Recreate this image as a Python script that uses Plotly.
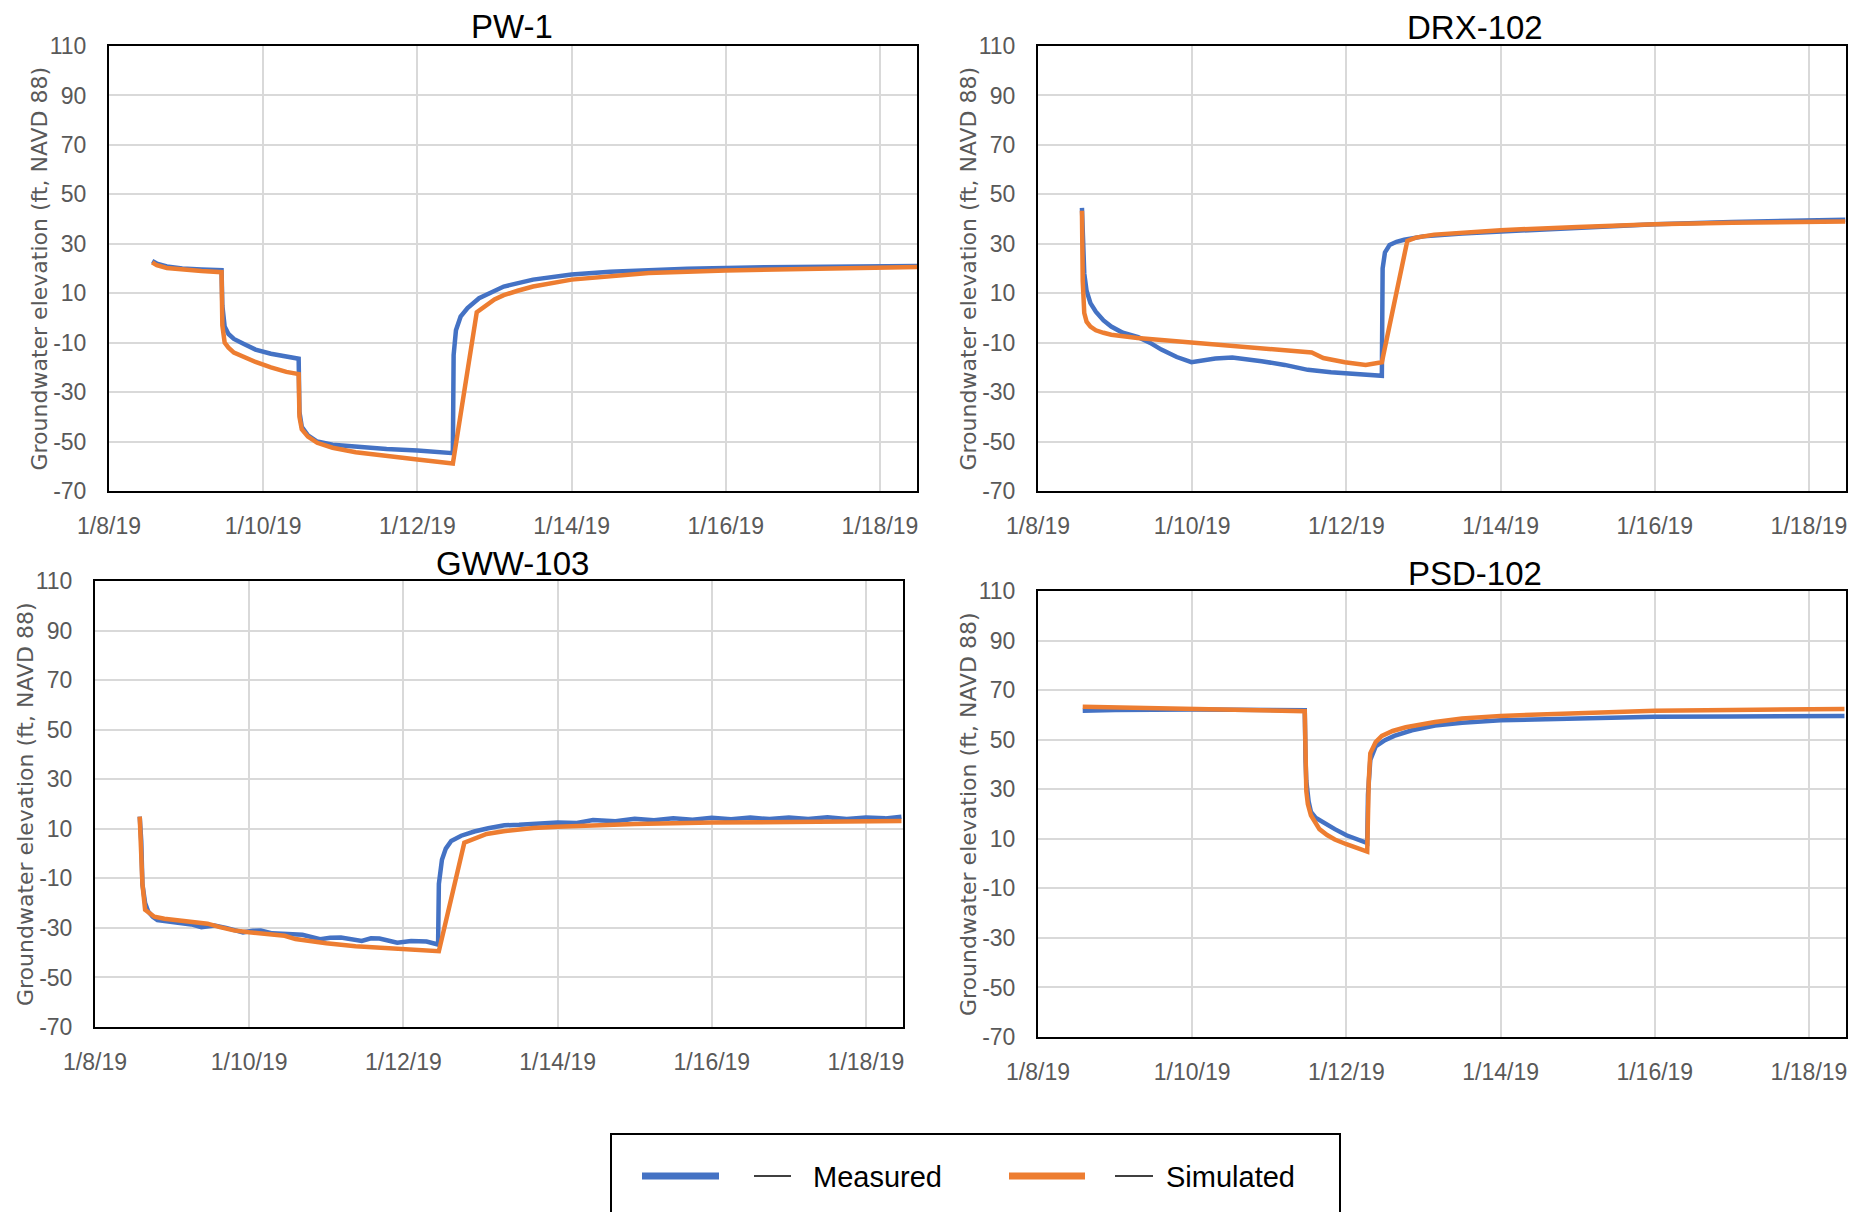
import pandas as pd
import plotly.graph_objects as go

START = pd.Timestamp("2019-01-08")

# ---------------- data (days after 1/8/19 00:00, elevation ft NAVD 88) ----------------
x_tick_days = [0, 2, 4, 6, 8, 10]
x_tick_labels = ["1/8/19", "1/10/19", "1/12/19", "1/14/19", "1/16/19", "1/18/19"]
x_range_days = [0, 10.48]
y_tick_values = [-70, -50, -30, -10, 10, 30, 50, 70, 90, 110]
y_tick_labels = ["-70", "-50", "-30", "-10", "10", "30", "50", "70", "90", "110"]
y_range = [-70, 110]

well_names = ["PW-1", "DRX-102", "GWW-103", "PSD-102"]
series_names = ["Measured", "Simulated"]

pw1_meas_days = [0.56, 0.62, 0.75, 0.95, 1.2, 1.46, 1.47, 1.5, 1.55, 1.62, 1.75, 1.9, 2.1, 2.3, 2.46,
                 2.47, 2.5, 2.58, 2.7, 2.9, 3.2, 3.6, 4.0, 4.46, 4.47, 4.5, 4.56, 4.65, 4.8, 5.0, 5.12,
                 5.5, 6.0, 6.5, 7.0, 7.5, 8.5, 9.5, 10.48]
pw1_meas_ft = [23.0, 22.0, 20.8, 20.0, 19.6, 19.3, 5.0, -3.5, -6.5, -8.5, -10.5, -12.8, -14.5, -15.7, -16.5,
               -38.0, -44.0, -47.5, -50.0, -51.3, -52.2, -53.0, -53.6, -54.7, -15.0, -5.0, 0.5, 4.0, 8.0, 11.0, 12.7,
               15.5, 17.6, 18.7, 19.5, 19.9, 20.5, 20.8, 21.0]
pw1_sim_days = [0.56, 0.62, 0.75, 0.95, 1.2, 1.46, 1.47, 1.5, 1.55, 1.62, 1.75, 1.9, 2.1, 2.3, 2.46,
                2.47, 2.5, 2.58, 2.7, 2.9, 3.2, 3.6, 4.0, 4.46, 4.77, 5.0, 5.12, 5.3, 5.5, 6.0, 6.5,
                7.0, 8.0, 9.0, 10.48]
pw1_sim_ft = [22.5, 21.3, 20.2, 19.5, 19.0, 18.5, -3.0, -10.0, -12.0, -14.0, -16.0, -17.8, -20.0, -21.8, -22.7,
              -40.0, -45.0, -48.0, -50.5, -52.5, -54.3, -56.0, -57.3, -58.9, 2.3, 7.5, 9.2, 11.0, 12.7, 15.5, 17.0,
              18.2, 19.2, 19.8, 20.6]

drx_meas_days = [0.57, 0.58, 0.6, 0.63, 0.68, 0.75, 0.85, 0.95, 1.1, 1.3, 1.45, 1.6, 1.8, 1.99, 2.1, 2.3,
                 2.52, 2.7, 2.9, 3.2, 3.5, 3.8, 4.1, 4.46, 4.47, 4.5, 4.56, 4.65, 4.75, 5.0, 5.5, 6.0,
                 7.0, 8.0, 9.0, 10.47]
drx_meas_ft = [44.5, 30.0, 18.0, 11.0, 6.0, 2.5, -1.0, -3.5, -6.0, -7.8, -10.0, -12.8, -15.8, -17.9, -17.3, -16.4,
               -16.0, -16.5, -17.5, -19.0, -21.0, -22.0, -22.8, -23.4, 20.0, 26.5, 29.5, 30.8, 31.6, 33.0, 34.2, 35.0,
               36.5, 37.9, 38.8, 39.7]
drx_sim_days = [0.57, 0.58, 0.6, 0.63, 0.68, 0.75, 0.85, 0.95, 1.29, 1.99, 2.75, 3.45, 3.55, 3.7, 3.98, 4.25,
                4.46, 4.79, 4.9, 5.14, 6.0, 7.0, 8.0, 9.0, 10.47]
drx_sim_ft = [43.4, 15.0, 2.0, -1.5, -3.5, -5.0, -6.0, -6.8, -8.1, -9.9, -11.6, -13.7, -14.0, -16.2, -17.9, -19.0,
              -17.9, 31.2, 32.5, 33.7, 35.5, 36.8, 37.9, 38.5, 39.0]

gww_meas_days = [0.58, 0.6, 0.615, 0.65, 0.69, 0.75, 0.81, 0.95, 1.08, 1.25, 1.38, 1.55, 1.7, 1.92, 2.05,
                 2.15, 2.3, 2.46, 2.69, 2.92, 3.05, 3.19, 3.46, 3.58, 3.69, 3.92, 4.1, 4.3, 4.45, 4.46,
                 4.5, 4.55, 4.62, 4.75, 4.92, 5.1, 5.31, 5.5, 5.69, 6.0, 6.25, 6.46, 6.75, 7.0, 7.25,
                 7.5, 7.75, 8.0, 8.25, 8.5, 8.75, 9.0, 9.25, 9.5, 9.75, 10.0, 10.25, 10.46]
gww_meas_ft = [14.9, 5.0, -12.3, -20.0, -23.4, -25.5, -26.9, -27.5, -28.3, -28.6, -29.7, -29.0, -30.0, -31.8, -31.2,
               -31.1, -32.2, -32.5, -32.8, -34.6, -34.0, -33.9, -35.3, -34.2, -34.3, -36.0, -35.3, -35.5, -36.7, -12.3,
               -2.5, 2.0, 5.1, 7.2, 8.9, 10.2, 11.4, 11.6, 12.1, 12.5, 12.3, 13.5, 13.0, 14.0, 13.4,
               14.2, 13.6, 14.4, 13.8, 14.5, 13.9, 14.5, 13.9, 14.6, 14.0, 14.6, 14.2, 14.9]
gww_sim_days = [0.58, 0.6, 0.615, 0.65, 0.77, 0.9, 1.08, 1.3, 1.46, 1.62, 1.8, 2.0, 2.2, 2.46, 2.6, 2.77,
                3.0, 3.38, 3.7, 4.0, 4.46, 4.79, 5.08, 5.3, 5.69, 6.0, 6.46, 7.0, 8.0, 9.0, 10.46]
gww_sim_ft = [14.9, 2.0, -12.3, -22.7, -25.5, -26.3, -26.9, -27.6, -28.3, -29.7, -31.0, -31.8, -32.5, -33.2, -34.5,
              -35.3, -36.2, -37.4, -38.0, -38.5, -39.4, 4.4, 7.9, 9.0, 10.3, 10.8, 11.4, 11.9, 12.5, 12.8, 13.1]

psd_meas_days = [0.58, 1.0, 2.0, 3.0, 3.46, 3.47, 3.48, 3.51, 3.54, 3.6, 3.69, 3.85, 4.0, 4.15, 4.27, 4.28,
                 4.31, 4.38, 4.5, 4.62, 4.85, 5.15, 5.5, 6.0, 7.0, 8.0, 9.0, 10.46]
psd_meas_ft = [61.7, 62.0, 62.2, 62.0, 61.9, 42.0, 33.4, 25.0, 20.9, 18.5, 16.7, 13.9, 11.4, 9.8, 8.3, 27.8,
               41.8, 47.3, 49.8, 51.5, 53.8, 55.7, 56.8, 57.8, 58.6, 59.2, 59.4, 59.6]
psd_sim_days = [0.58, 1.0, 2.0, 3.0, 3.46, 3.48, 3.5, 3.54, 3.6, 3.65, 3.75, 3.85, 4.0, 4.08, 4.27, 4.29,
                4.31, 4.38, 4.46, 4.6, 4.77, 5.15, 5.5, 6.0, 7.0, 8.0, 9.0, 10.46]
psd_sim_ft = [63.3, 63.0, 62.6, 62.0, 61.5, 29.2, 24.0, 19.5, 16.0, 13.9, 11.5, 9.7, 7.8, 6.9, 4.8, 33.4,
              44.5, 49.0, 51.5, 53.5, 55.0, 57.1, 58.5, 59.6, 60.8, 61.7, 62.0, 62.4]

# ---------------- styling / layout ----------------
W, H = 1860, 1212
PAGE_OFFSET = 8  # default body margin of the html page
BLUE = "#4472C4"
ORANGE = "#ED7D31"
TICK_COLOR = "#595959"
GRID_COLOR = "#D9D9D9"
FONT = "Liberation Sans, Arial, sans-serif"


def dt(days):
    return START + pd.to_timedelta(days, unit="D")


def px_x(px):
    return (px - PAGE_OFFSET) / W


def px_y(py):
    return 1 - (py - PAGE_OFFSET) / H


# panel boxes in pixels: (left, right, top, bottom), title centre
panels = [
    dict(meas=(pw1_meas_days, pw1_meas_ft), sim=(pw1_sim_days, pw1_sim_ft),
         box=(109, 917, 46, 491), title_xy=(512, 26)),
    dict(meas=(drx_meas_days, drx_meas_ft), sim=(drx_sim_days, drx_sim_ft),
         box=(1038, 1846, 46, 491), title_xy=(1475, 28)),
    dict(meas=(gww_meas_days, gww_meas_ft), sim=(gww_sim_days, gww_sim_ft),
         box=(95, 903, 581, 1027), title_xy=(512, 563)),
    dict(meas=(psd_meas_days, psd_meas_ft), sim=(psd_sim_days, psd_sim_ft),
         box=(1038, 1846, 591, 1037), title_xy=(1475, 573)),
]

fig = go.Figure()
annotations = []
layout_axes = {}

for i, (name, p) in enumerate(zip(well_names, panels), start=1):
    xa = "x" if i == 1 else f"x{i}"
    ya = "y" if i == 1 else f"y{i}"
    for (days, vals), sname, color in [(p["meas"], series_names[0], BLUE),
                                       (p["sim"], series_names[1], ORANGE)]:
        fig.add_trace(go.Scatter(
            x=dt(days), y=vals, mode="lines", name=sname,
            line=dict(color=color, width=4.5),
            xaxis=xa, yaxis=ya, showlegend=False,
        ))
    l, r, t, b = p["box"]
    xkey = "xaxis" if i == 1 else f"xaxis{i}"
    ykey = "yaxis" if i == 1 else f"yaxis{i}"
    layout_axes[xkey] = dict(
        type="date", domain=[px_x(l), px_x(r)], anchor=ya, automargin=False,
        range=[dt(x_range_days[0]), dt(x_range_days[1])],
        tickmode="array", tickvals=dt(x_tick_days), ticktext=x_tick_labels,
        showgrid=True, gridcolor=GRID_COLOR, gridwidth=1.5,
        showline=True, linecolor="black", linewidth=2, mirror=True,
        ticks="", ticklabelstandoff=13, zeroline=False,
        tickfont=dict(family=FONT, size=23, color=TICK_COLOR),
    )
    layout_axes[ykey] = dict(
        domain=[px_y(b), px_y(t)], anchor=xa, range=y_range, automargin=False,
        tickmode="array", tickvals=y_tick_values, ticktext=y_tick_labels,
        showgrid=True, gridcolor=GRID_COLOR, gridwidth=1.5,
        showline=True, linecolor="black", linewidth=2, mirror=True,
        ticks="", ticklabelstandoff=16, zeroline=False,
        tickfont=dict(family=FONT, size=23, color=TICK_COLOR),
    )
    # panel title
    tx, ty = p["title_xy"]
    annotations.append(dict(
        text=name, xref="paper", yref="paper", x=px_x(tx), y=px_y(ty),
        xanchor="center", yanchor="middle", showarrow=False,
        font=dict(family=FONT, size=33, color="black"),
    ))
    # y-axis title
    annotations.append(dict(
        text="Groundwater elevation (ft, NAVD 88)", xref="paper", yref="paper",
        x=px_x(l - 70), y=px_y((t + b) / 2), textangle=-90,
        xanchor="center", yanchor="middle", showarrow=False,
        font=dict(family="DejaVu Sans, sans-serif", size=22, color=TICK_COLOR),
    ))

# ---------------- legend (boxed key at the bottom) ----------------
shapes = [
    dict(type="rect", xref="paper", yref="paper",
         x0=px_x(611), x1=px_x(1340), y0=px_y(1240), y1=px_y(1134),
         line=dict(color="black", width=2), fillcolor="rgba(0,0,0,0)"),
]
legend_items = [
    (series_names[0], BLUE, 642, 719, 754, 791, 811),
    (series_names[1], ORANGE, 1009, 1085, 1115, 1153, 1164),
]
for label, color, a0, a1, b0, b1, txt in legend_items:
    shapes.append(dict(type="line", xref="paper", yref="paper",
                       x0=px_x(a0), x1=px_x(a1), y0=px_y(1176), y1=px_y(1176),
                       line=dict(color=color, width=7)))
    shapes.append(dict(type="line", xref="paper", yref="paper",
                       x0=px_x(b0), x1=px_x(b1), y0=px_y(1176), y1=px_y(1176),
                       line=dict(color="black", width=1.5)))
    annotations.append(dict(
        text=label, xref="paper", yref="paper", x=px_x(txt), y=px_y(1177),
        xanchor="left", yanchor="middle", showarrow=False,
        font=dict(family=FONT, size=29, color="black"),
    ))

fig.update_layout(
    width=W, height=H, margin=dict(l=0, r=0, t=0, b=0, autoexpand=False),
    paper_bgcolor="white", plot_bgcolor="white",
    showlegend=False, annotations=annotations, shapes=shapes,
    **layout_axes,
)

fig.write_html("out.html")
